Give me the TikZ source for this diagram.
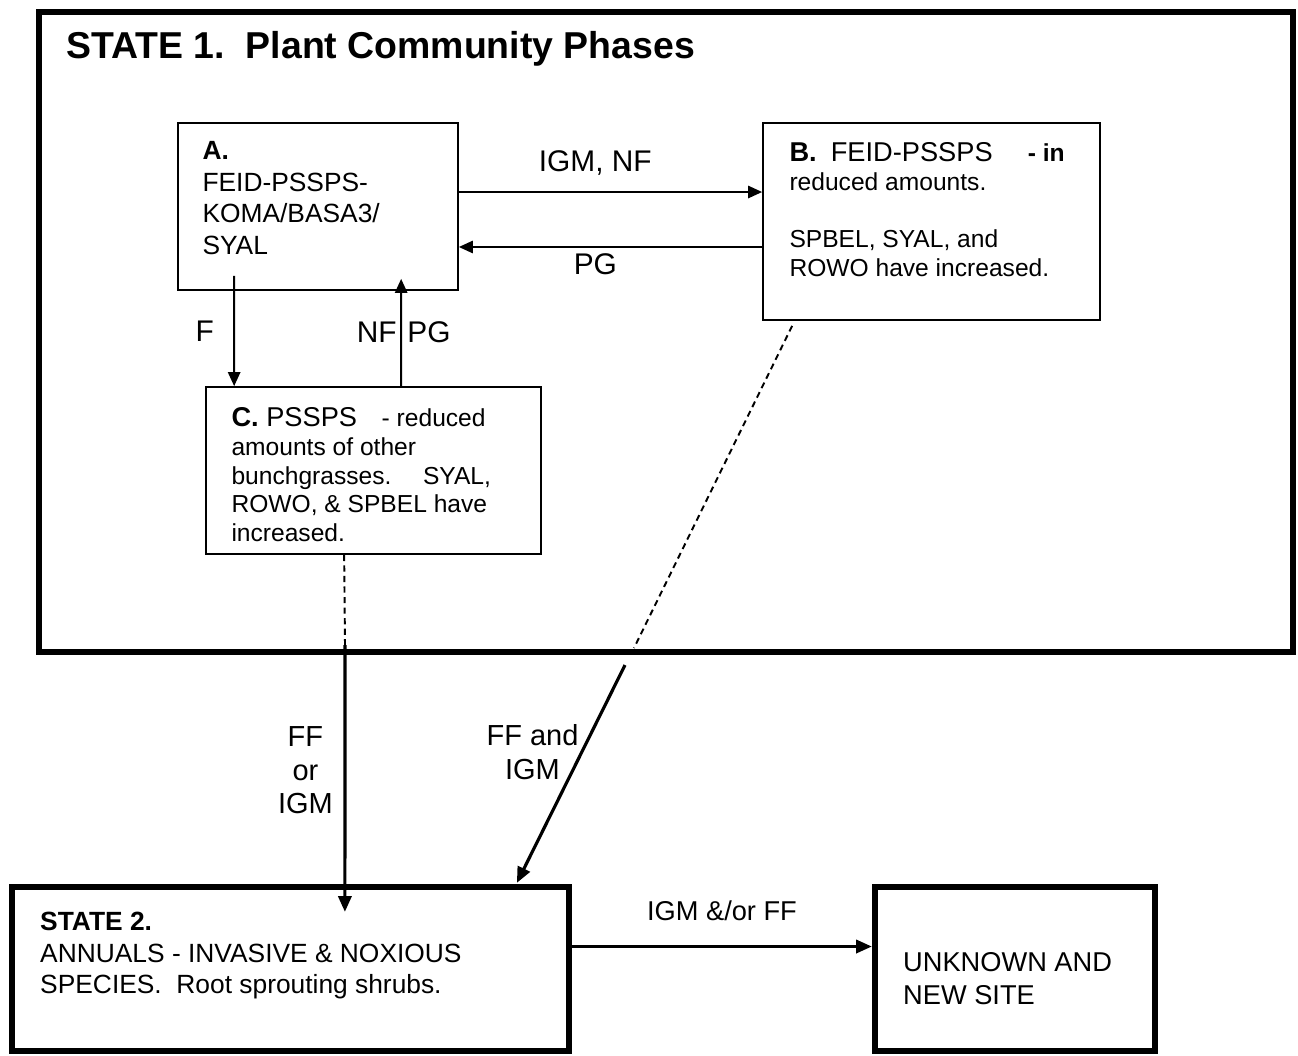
\documentclass[tikz,border=0pt]{standalone}
\usepackage{fontspec}
\setmainfont{Liberation Sans}
\usetikzlibrary{arrows.meta,positioning}

\begin{document}
\begin{tikzpicture}[x=0.02cm,y=-0.02cm,box/.style={draw,line width=1pt,inner sep=0pt},state/.style={draw,line width=3.6pt,inner sep=0pt},txt/.style={anchor=north west,align=left,inner sep=0pt},lab/.style={inner sep=1pt,font=\fontsize{17}{20}\selectfont},arr/.style={-{Triangle[length=8pt,width=7pt]},line width=1.1pt},bigarr/.style={-{Triangle[length=9pt,width=7.5pt]},line width=1.8pt},dsh/.style={line width=1.1pt,dash pattern=on 3.5pt off 2.5pt}]
\useasboundingbox (0,0) rectangle (1298,1055);
\node[state,minimum width=25.08cm,minimum height=12.8cm](S1) at (666,332){};
\node[txt,font=\fontsize{21.3}{25}\selectfont\bfseries](S1t) at ([shift={(30,22)}]S1.north west){STATE 1.\ \ Plant Community Phases};
\node[box,minimum width=5.6cm,minimum height=3.34cm](A) at (318,206.5){};
\node[box,minimum width=6.74cm,minimum height=3.94cm](B) at (931.5,221.5){};
\node[box,minimum width=6.7cm,minimum height=3.34cm](C) at (373.5,470.5){};
\node[state,minimum width=11.14cm,minimum height=3.28cm](S2) at (290.5,969){};
\node[state,minimum width=5.6cm,minimum height=3.28cm](U) at (1015,969){};
\node[txt,font=\fontsize{15}{18}\selectfont](At) at ([shift={(25,19)}]A.north west){\textbf{A.}\\FEID-PSSPS-\\KOMA/BASA3/\\SYAL};
\node[txt,font=\fontsize{14}{16.4}\selectfont](Bt) at ([shift={(27,20)}]B.north west){{\fontsize{15.5}{16.4}\selectfont\textbf{B.}\hspace{8pt}FEID-PSSPS}\hspace{20pt}\textbf{- in}\\reduced amounts.\\[16.4pt]SPBEL, SYAL, and\\ROWO have increased.};
\node[txt,font=\fontsize{14}{16.4}\selectfont](Ct) at ([shift={(26,21)}]C.north west){{\fontsize{15.5}{16.4}\selectfont\textbf{C.}\ PSSPS}\hspace{14pt}- reduced\\amounts of other\\bunchgrasses.\hspace{18pt}SYAL,\\ROWO, \& SPBEL have\\increased.};
\node[txt,font=\fontsize{15}{18}\selectfont](S2t) at ([shift={(31,28)}]S2.north west){\textbf{STATE 2.}\\ANNUALS - INVASIVE \& NOXIOUS\\SPECIES.\ \ Root sprouting shrubs.};
\node[txt,font=\fontsize{15.5}{18.7}\selectfont](Ut) at ([shift={(31,68)}]U.north west){UNKNOWN AND\\NEW SITE};
% phases inside state 1
\draw[arr]([yshift=0.29cm]A.east)--node[lab,above=8pt,pos=0.45]{IGM, NF}([yshift=0.59cm]B.west);
\draw[arr]([yshift=-0.51cm]B.west)--node[lab,below=2pt,pos=0.55]{PG}([yshift=-0.81cm]A.east);
\draw[arr]([shift={(57,-15)}]A.south west)--node[lab,left=10pt]{F}([shift={(29,0)}]C.north west);
\draw[arr]([shift={(196,0)}]C.north west)--node[lab,left=1pt]{NF}node[lab,right=2pt]{PG}([shift={(224,-12)}]A.south west);
% transitions to state 2
\coordinate(cC) at (345,645);
\coordinate(cB1) at (634,648);
\coordinate(cB2) at (625,665);
\draw[dsh]([shift={(139,0)}]C.south west)--(cC);
\draw[bigarr](cC)--node[lab,left=5pt,pos=0.47,align=center,font=\fontsize{16.5}{19}\selectfont]{FF\\or\\IGM}([shift={(336,28)}]S2.north west);
\draw[dsh]([shift={(30,5)}]B.south west)--(cB1);
\draw[bigarr](cB2)--node[lab,left=0pt,pos=0.4,align=center,font=\fontsize{16.5}{19}\selectfont]{FF and\\IGM}([shift={(508,-1)}]S2.north west);
\draw[bigarr]([yshift=0.45cm]S2.east)--node[lab,above=13pt,font=\fontsize{15.5}{18}\selectfont]{IGM \&/or FF}([yshift=0.45cm]U.west);
\end{tikzpicture}
\end{document}
